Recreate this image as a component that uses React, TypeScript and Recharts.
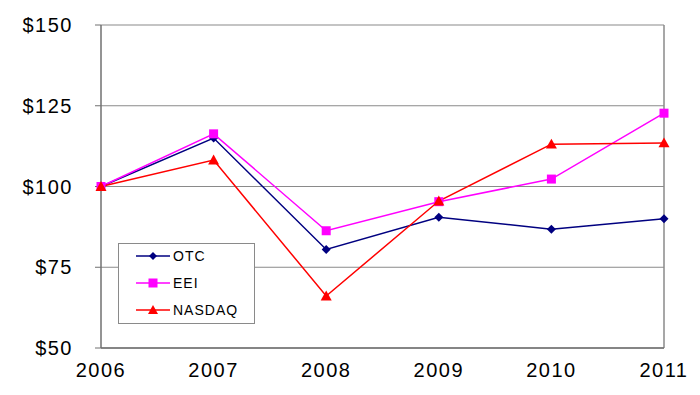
import React from 'react';
import { LineChart, Line, XAxis, YAxis, CartesianGrid, ReferenceLine, Legend } from 'recharts';

const years = ['2006', '2007', '2008', '2009', '2010', '2011'];
const otc = [100, 115, 80.5, 90.5, 86.8, 90];
const eei = [100, 116.3, 86.3, 95.3, 102.3, 122.7];
const nasdaq = [100, 108.2, 66.1, 95.5, 113.1, 113.5];
const yTicks = [50, 75, 100, 125, 150];

const NAVY = '#000080';
const MAGENTA = '#ff00ff';
const RED = '#ff0000';
const GRID = '#8a8a8a';
const AXIS = '#707070';

const data = years.map((year, i) => ({ year, otc: otc[i], eei: eei[i], nasdaq: nasdaq[i] }));

function diamond(cx: number, cy: number, r: number) {
  return `M${cx},${cy - r}L${cx + r},${cy}L${cx},${cy + r}L${cx - r},${cy}Z`;
}
function triangle(cx: number, cy: number, r: number) {
  return `M${cx},${cy - r}L${cx + r},${cy + r * 0.8}L${cx - r},${cy + r * 0.8}Z`;
}

const DiamondDot = (p: any) => <path key={`o-${p.index}`} d={diamond(p.cx, p.cy, 4.5)} fill={NAVY} />;
const SquareDot = (p: any) => <rect key={`e-${p.index}`} x={p.cx - 4.5} y={p.cy - 4.5} width={9} height={9} fill={MAGENTA} />;
const TriangleDot = (p: any) => <path key={`n-${p.index}`} d={triangle(p.cx, p.cy, 5.5)} fill={RED} />;

const legendItems = [
  { name: 'OTC', color: NAVY, shape: 'diamond' },
  { name: 'EEI', color: MAGENTA, shape: 'square' },
  { name: 'NASDAQ', color: RED, shape: 'triangle' },
];

function LegendBox() {
  return (
    <div style={{ width: 137, height: 81, border: `1px solid ${GRID}`, background: '#fff', boxSizing: 'border-box' }}>
      <svg width={135} height={79}>
        {legendItems.map((it, i) => {
          const y = 12 + i * 27;
          const cx = 34;
          return (
            <g key={it.name}>
              <line x1={17} x2={51} y1={y} y2={y} stroke={it.color} strokeWidth={1.5} />
              {it.shape === 'diamond' && <path d={diamond(cx, y, 4)} fill={it.color} />}
              {it.shape === 'square' && <rect x={cx - 4.5} y={y - 4.5} width={9} height={9} fill={it.color} />}
              {it.shape === 'triangle' && <path d={triangle(cx, y, 5)} fill={it.color} />}
              <text x={54} y={y + 5} fontSize={14} letterSpacing={1} fill="#000" fontFamily="'Liberation Sans', Arial, sans-serif">
                {it.name}
              </text>
            </g>
          );
        })}
      </svg>
    </div>
  );
}

export default function App() {
  const tickFont = { fontSize: 20, fill: '#000', fontFamily: "'Liberation Sans', Arial, sans-serif", letterSpacing: 1.5 };
  return (
    <div style={{ position: 'absolute', left: 0, top: 0, width: 700, height: 395, background: '#fff' }}>
      <LineChart width={700} height={395} data={data} margin={{ top: 25, right: 36, bottom: 0, left: 0 }}>
        <CartesianGrid vertical={false} stroke={GRID} strokeWidth={1.2} />
        <XAxis
          dataKey="year"
          height={47}
          tickLine={false}
          tickSize={0}
          tickMargin={15}
          axisLine={{ stroke: AXIS, strokeWidth: 1.5 }}
          tick={tickFont}
          interval={0}
        />
        <YAxis
          domain={[50, 150]}
          ticks={yTicks}
          width={101}
          tickSize={6}
          tickMargin={22}
          tickLine={{ stroke: AXIS }}
          axisLine={{ stroke: AXIS, strokeWidth: 1.5 }}
          tick={tickFont}
          tickFormatter={(v: number) => `$${v}`}
        />
        <ReferenceLine x="2011" stroke={GRID} strokeWidth={1.5} />
        <Line dataKey="otc" name="OTC" stroke={NAVY} strokeWidth={1.5} dot={DiamondDot} activeDot={false} isAnimationActive={false} />
        <Line dataKey="eei" name="EEI" stroke={MAGENTA} strokeWidth={1.5} dot={SquareDot} activeDot={false} isAnimationActive={false} />
        <Line dataKey="nasdaq" name="NASDAQ" stroke={RED} strokeWidth={1.5} dot={TriangleDot} activeDot={false} isAnimationActive={false} />
        <Legend
          layout="horizontal"
          verticalAlign="middle"
          align="center"
          content={() => <LegendBox />}
          wrapperStyle={{ position: 'absolute', left: 118, top: 243, width: 137, height: 81 }}
        />
      </LineChart>
    </div>
  );
}
